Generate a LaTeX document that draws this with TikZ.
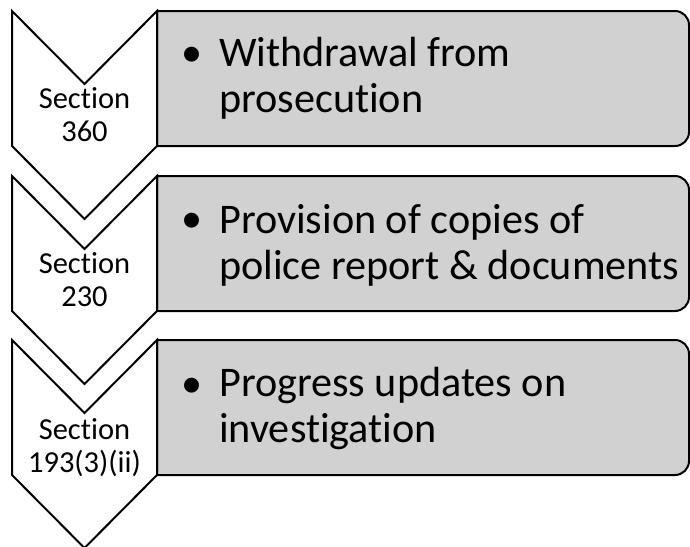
\documentclass[tikz,border=0pt]{standalone}
\usepackage{fontspec}
\setmainfont[Ligatures=NoCommon]{Carlito}
\definecolor{panelgray}{RGB}{209,209,209}
\begin{document}
\begin{tikzpicture}[x=1pt,y=-1pt,
  chev/.style={draw=black,line width=2pt,fill=white,line join=miter},
  panel/.style={draw=black,line width=2pt,fill=panelgray},
  sect/.style={font=\fontsize{30.5}{33}\selectfont,align=center,anchor=base,inner sep=0pt},
  item/.style={font=\fontsize{42.2}{46}\selectfont,align=left,anchor=base west,inner sep=0pt},
  bul/.style={font=\fontsize{42.2}{46}\selectfont,anchor=base,inner sep=0pt}]
\useasboundingbox (0,0) rectangle (690,546);
% panels
\foreach \T in {11,176,340}{
  \draw[panel] (157,\T+135) -- (157,\T) -- (675,\T)
     .. controls (682.7,\T) and (689,\T+6.3) .. (689,\T+14)
     -- (689,\T+121)
     .. controls (689,\T+128.7) and (682.7,\T+135) .. (675,\T+135) -- cycle;
}
% chevrons
\foreach \T in {11,176,340}{
  \draw[chev] (12,\T) -- (84.5,\T+73) -- (157,\T) -- (157,\T+135)
     -- (84.5,\T+208) -- (12,\T+135) -- cycle;
}
% section labels (anchored at the baseline of the last line)
\node[sect] (s1) at (84.5,141.5) {Section\\360};
\node[sect] (s2) at (84.5,306) {Section\\230};
\node[sect] (s3) at (84.5,472) {Section\\193(3)(ii)};
% bullets
\node[bul] (b1) at (192,66) {•};
\node[bul] (b2) at (192,232.5) {•};
\node[bul] (b3) at (192,397.5) {•};
% items (anchored at the baseline of the last line)
\node[item] (t1) at (219,112) {Withdrawal from\\prosecution};
\node[item] (t2) at (219,279) {Provision of copies of\\police report \& documents};
\node[item] (t3) at (219,442) {Progress updates on\\investigation};
\end{tikzpicture}
\end{document}
